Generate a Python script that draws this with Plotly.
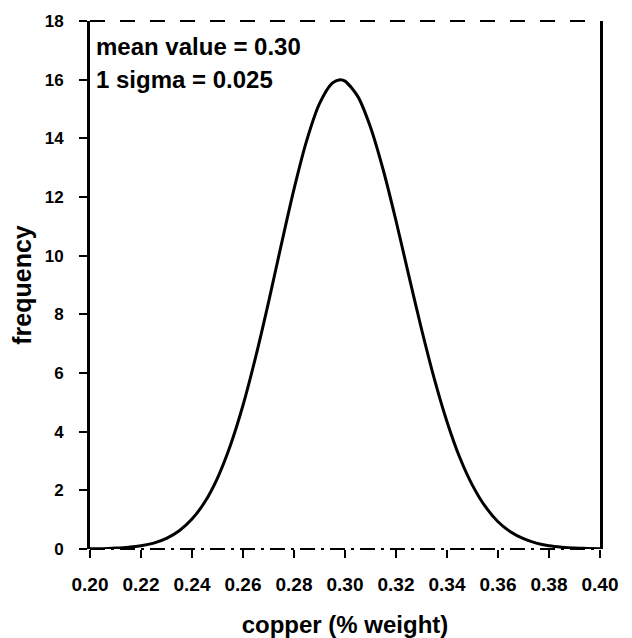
import plotly.graph_objects as go

# readings from the picture (copper % weight vs frequency)
copper = [0.200, 0.205, 0.210, 0.215, 0.220, 0.225, 0.230, 0.235, 0.240, 0.245,
          0.250, 0.255, 0.260, 0.265, 0.270, 0.275, 0.280, 0.285, 0.290, 0.295,
          0.298, 0.300, 0.305, 0.310, 0.315, 0.320, 0.325, 0.330, 0.335, 0.340,
          0.345, 0.350, 0.355, 0.360, 0.365, 0.370, 0.375, 0.380, 0.385, 0.390,
          0.395, 0.400]
frequency = [0.01, 0.01, 0.03, 0.06, 0.11, 0.20, 0.36, 0.62, 1.02, 1.60,
             2.42, 3.52, 4.90, 6.56, 8.41, 10.37, 12.27, 13.93, 15.18, 15.88,
             16.00, 15.95, 15.43, 14.38, 12.92, 11.19, 9.33, 7.50, 5.81, 4.34,
             3.12, 2.17, 1.45, 0.93, 0.58, 0.35, 0.20, 0.11, 0.06, 0.03,
             0.02, 0.01]
x_ticks = [0.20, 0.22, 0.24, 0.26, 0.28, 0.30, 0.32, 0.34, 0.36, 0.38, 0.40]
x_tick_labels = ["0.20", "0.22", "0.24", "0.26", "0.28", "0.30", "0.32", "0.34", "0.36", "0.38", "0.40"]
y_ticks = [0, 2, 4, 6, 8, 10, 12, 14, 16, 18]
y_tick_labels = ["0", "2", "4", "6", "8", "10", "12", "14", "16", "18"]
notes = ["mean value = 0.30", "1 sigma = 0.025"]

FONT = "Arial, Liberation Sans, sans-serif"

fig = go.Figure()
fig.add_trace(go.Scatter(x=copper, y=frequency, mode="lines",
                         line=dict(color="black", width=3, shape="spline", smoothing=0.8),
                         showlegend=False, hoverinfo="skip"))

fig.update_layout(
    width=632, height=638,
    margin=dict(l=82, r=40, t=13, b=97),
    paper_bgcolor="white", plot_bgcolor="white",
    font=dict(family=FONT, color="black"),
    xaxis=dict(range=[0.20, 0.40], tickvals=x_ticks, automargin=False,
               ticktext=["<b>%s</b>" % t for t in x_tick_labels],
               tickfont=dict(size=19, family=FONT, color="black"),
               ticks="outside", ticklen=8, tickwidth=2, tickcolor="black",
               showline=False, showgrid=False, zeroline=False,
               ticklabelstandoff=10,
               title=dict(text="<b>copper (% weight)</b>", font=dict(size=24, family=FONT), standoff=22)),
    yaxis=dict(range=[0, 18], tickvals=y_ticks, automargin=False,
               ticktext=["<b>%s</b>" % t for t in y_tick_labels],
               tickfont=dict(size=17, family=FONT, color="black"),
               ticks="outside", ticklen=8, tickwidth=2, tickcolor="black",
               showline=True, linewidth=3, linecolor="black", mirror=True,
               showgrid=False, zeroline=False, ticklabelstandoff=12,
               title=dict(text="<b>frequency</b>", font=dict(size=25, family=FONT), standoff=14)),
    shapes=[
        dict(type="line", xref="paper", yref="paper", x0=0, x1=1, y0=0, y1=0,
             line=dict(color="black", width=2, dash="longdashdot")),
        dict(type="line", xref="paper", yref="paper", x0=0, x1=1, y0=1, y1=1,
             line=dict(color="black", width=2, dash="longdash")),
    ],
    annotations=[
        dict(text="<b>%s</b>" % notes[0], xref="paper", yref="paper", x=0.008, y=0.951,
             xanchor="left", yanchor="middle", showarrow=False, font=dict(size=24, family=FONT)),
        dict(text="<b>%s</b>" % notes[1], xref="paper", yref="paper", x=0.008, y=0.890,
             xanchor="left", yanchor="middle", showarrow=False, font=dict(size=24, family=FONT)),
    ],
)

fig.write_html("out.html")
